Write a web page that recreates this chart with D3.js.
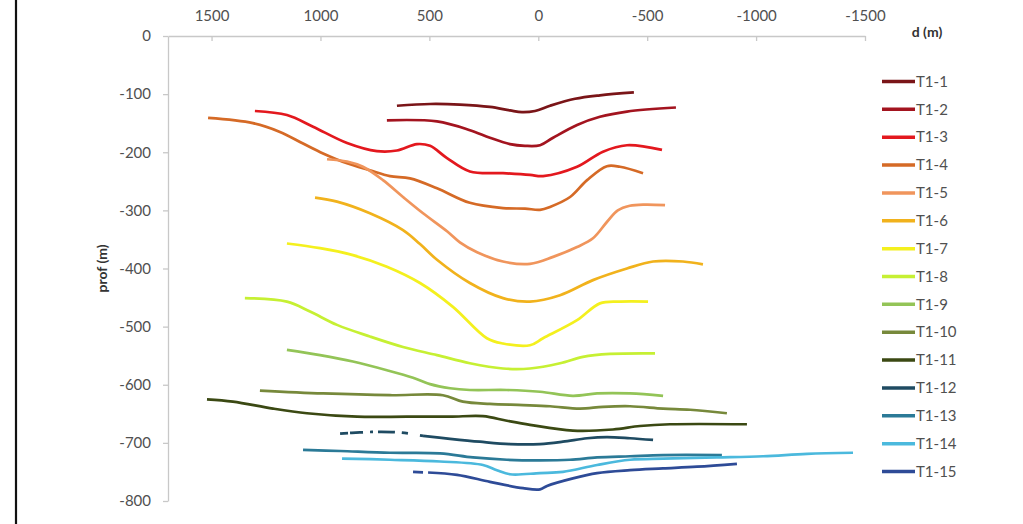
<!DOCTYPE html>
<html><head><meta charset="utf-8">
<script src="https://cdn.jsdelivr.net/npm/d3@7"></script>
<style>
html,body{margin:0;padding:0;background:#fff;}
svg{display:block;}
text{font-family:Lato,"Open Sans",sans-serif;}
</style></head>
<body>
<svg id="chart" width="1023" height="524"></svg>
<script>
// ---- data (d in metres, prof in metres) ----
const seriesNames = ["T1-1","T1-2","T1-3","T1-4","T1-5","T1-6","T1-7","T1-8","T1-9","T1-10","T1-11","T1-12","T1-13","T1-14","T1-15"];
const xTicks = [1500,1000,500,0,-500,-1000,-1500];
const yTicks = [0,-100,-200,-300,-400,-500,-600,-700,-800];

const T1_1 = [[649,-120],[497,-117],[360,-118],[222,-122],[130,-128],[75,-131],[15,-129],[-54,-120],[-169,-108],[-283,-102],[-439,-97]];
const T1_2 = [[695,-145],[465,-147],[314,-162],[222,-175],[130,-186],[61,-189],[-8,-188],[-68,-175],[-178,-153],[-283,-139],[-407,-130],[-632,-123]];
const T1_3 = [[1301,-129],[1154,-136],[1034,-156],[878,-184],[741,-198],[649,-197],[557,-186],[497,-189],[419,-210],[314,-233],[162,-236],[38,-239],[-22,-241],[-178,-225],[-297,-199],[-407,-188],[-568,-196]];
const T1_4 = [[1516,-141],[1310,-150],[1186,-165],[1080,-185],[988,-202],[878,-219],[773,-231],[681,-241],[589,-245],[465,-262],[314,-287],[162,-296],[61,-297],[-8,-299],[-54,-294],[-146,-277],[-224,-248],[-315,-224],[-375,-225],[-481,-236]];
const T1_5 = [[970,-212],[878,-216],[805,-225],[713,-248],[621,-277],[529,-305],[419,-336],[360,-355],[281,-372],[162,-388],[38,-392],[-68,-380],[-178,-363],[-251,-348],[-315,-320],[-365,-300],[-420,-292],[-490,-290],[-582,-291]];
const T1_6 = [[1025,-278],[924,-285],[773,-305],[621,-334],[543,-358],[465,-385],[314,-425],[162,-451],[38,-457],[-100,-446],[-251,-420],[-407,-400],[-527,-388],[-664,-388],[-756,-393]];
const T1_7 = [[1154,-357],[1002,-365],[851,-377],[695,-397],[543,-425],[392,-466],[236,-520],[162,-529],[38,-532],[-22,-520],[-178,-489],[-283,-460],[-375,-457],[-504,-457]];
const T1_8 = [[1347,-451],[1154,-457],[1048,-474],[924,-497],[773,-517],[621,-535],[465,-549],[314,-563],[162,-572],[38,-572],[-100,-563],[-205,-552],[-329,-547],[-536,-546]];
const T1_9 = [[1154,-540],[1002,-549],[851,-560],[695,-575],[575,-588],[497,-599],[405,-606],[314,-609],[144,-609],[-8,-612],[-159,-619],[-270,-615],[-421,-615],[-573,-619]];
const T1_10 = [[1278,-610],[988,-615],[681,-618],[438,-618],[346,-629],[222,-633],[70,-635],[-54,-637],[-191,-641],[-297,-638],[-421,-637],[-573,-641],[-697,-643],[-866,-649]];
const T1_11 = [[1521,-625],[1402,-629],[1218,-641],[1062,-649],[832,-655],[603,-655],[405,-655],[254,-654],[144,-662],[38,-669],[-159,-679],[-343,-677],[-467,-671],[-605,-668],[-958,-668]];
const T1_12 = [[910,-684],[819,-682],[727,-681],[635,-682],[529,-688],[405,-693],[268,-698],[130,-702],[-8,-702],[-113,-698],[-224,-692],[-315,-690],[-421,-692],[-527,-695]];
const T1_13 = [[1080,-712],[910,-714],[681,-717],[451,-718],[300,-725],[144,-729],[-8,-730],[-146,-729],[-270,-725],[-421,-723],[-573,-721],[-843,-721]];
const T1_14 = [[901,-727],[681,-729],[451,-732],[254,-738],[190,-747],[130,-754],[-8,-752],[-113,-750],[-270,-738],[-421,-729],[-573,-727],[-820,-725],[-1032,-723],[-1234,-719],[-1445,-717]];
const T1_15 = [[575,-750],[506,-751],[373,-755],[222,-767],[70,-778],[-8,-780],[-40,-774],[-159,-761],[-270,-752],[-421,-747],[-573,-744],[-729,-741],[-912,-736]];
const seriesValues = [T1_1,T1_2,T1_3,T1_4,T1_5,T1_6,T1_7,T1_8,T1_9,T1_10,T1_11,T1_12,T1_13,T1_14,T1_15];
// leading portions of these profiles are broken (drawn dashed): d values down to which the trace is broken
const brokenUntil = {"T1-12": 529, "T1-15": 506};

// ---- styles ----
const colors = ["#7a1518","#a3141f","#e3181e","#d56a26","#f0955c","#f1b21c","#f4f01e","#c6f033","#93c457","#77893b","#3b4913","#1f4b62","#2b7a97","#4bb9dd","#2e4b97"];
const dashPatterns = {"T1-12": "8,2,13,7,3,5,17,7,6,12,5,3,200", "T1-15": "10,5,300"};

const svg = d3.select("#chart");
const x = d3.scaleLinear().domain([1700,-1500]).range([168,865]);
const y = d3.scaleLinear().domain([0,-800]).range([36,501]);
const fmt = d => String(d);

// left frame line
svg.append("line").attr("x1",16).attr("x2",16).attr("y1",0).attr("y2",524)
  .attr("stroke","#111").attr("stroke-width",2.2);

// x axis (top)
const xAxis = d3.axisBottom(x).tickValues(xTicks).tickSize(5).tickSizeOuter(0).tickFormat(fmt);
const gx = svg.append("g").attr("transform",`translate(0,${y(0)})`).call(xAxis);
gx.select(".domain").attr("stroke","#c8c8c8").attr("stroke-width",1.3);
gx.selectAll(".tick line").attr("stroke","#c8c8c8").attr("stroke-width",1.3);
gx.selectAll(".tick text").attr("y",-26).attr("dy","0.71em").attr("fill","#505050").attr("font-size",15);

// y axis (left)
const yAxis = d3.axisLeft(y).tickValues(yTicks).tickSize(5).tickSizeOuter(0).tickFormat(fmt);
const gy = svg.append("g").attr("transform",`translate(${x(1700)},0)`).call(yAxis);
gy.select(".domain").attr("stroke","#c8c8c8").attr("stroke-width",1.3);
gy.selectAll(".tick line").attr("stroke","#c8c8c8").attr("stroke-width",1.3);
gy.selectAll(".tick text").attr("x",-17).attr("fill","#505050").attr("font-size",15);
gy.selectAll("text").attr("font-family","Lato, 'Open Sans', sans-serif");
gx.selectAll("text").attr("font-family","Lato, 'Open Sans', sans-serif");

// axis titles
svg.append("text").attr("x",927).attr("y",37).attr("text-anchor","middle")
  .attr("font-size",14).attr("font-weight","bold").attr("fill","#333").text("d (m)");
svg.append("text").attr("transform",`translate(107,${y(-400)}) rotate(-90)`).attr("text-anchor","middle")
  .attr("font-size",14).attr("font-weight","bold").attr("fill","#333").text("prof (m)");

// lines
const line = d3.line().x(p => x(p[0])).y(p => y(p[1])).curve(d3.curveCatmullRom.alpha(0.5));
const plot = svg.append("g");
seriesNames.forEach((name,i) => {
  const pts = seriesValues[i];
  if (brokenUntil[name] !== undefined) {
    const lim = brokenUntil[name];
    const head = pts.filter(p => p[0] >= lim);
    const tail = pts.filter(p => p[0] <= lim);
    plot.append("path").attr("d",line(head)).attr("fill","none").attr("stroke",colors[i])
      .attr("stroke-width",2.7).attr("stroke-dasharray",dashPatterns[name]);
    plot.append("path").attr("d",line(tail)).attr("fill","none").attr("stroke",colors[i])
      .attr("stroke-width",2.7).attr("stroke-linecap","butt");
  } else {
    plot.append("path").attr("d",line(pts)).attr("fill","none").attr("stroke",colors[i])
      .attr("stroke-width",2.7).attr("stroke-linejoin","round");
  }
});

// legend
const legend = svg.append("g");
const ly = d3.scalePoint().domain(seriesNames).range([81.5,471.5]);
seriesNames.forEach((name,i) => {
  legend.append("line").attr("x1",882).attr("x2",915).attr("y1",ly(name)).attr("y2",ly(name))
    .attr("stroke",colors[i]).attr("stroke-width",3.5);
  legend.append("text").attr("x",916).attr("y",ly(name)).attr("dy","0.35em")
    .attr("font-size",15).attr("fill","#505050").text(name);
});
</script>
</body></html>
